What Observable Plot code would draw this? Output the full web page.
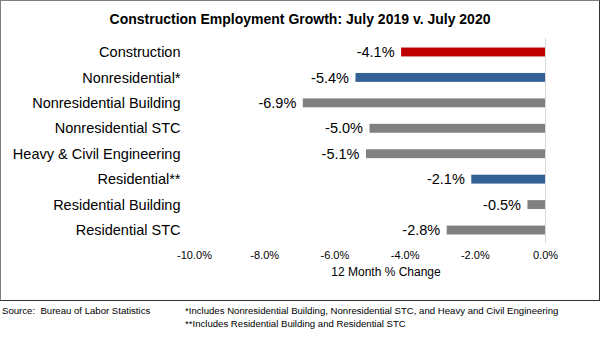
<!DOCTYPE html>
<html>
<head>
<meta charset="utf-8">
<script src="https://cdn.jsdelivr.net/npm/d3@7"></script>
<script src="https://cdn.jsdelivr.net/npm/@observablehq/plot@0.6"></script>
<style>
  html, body { margin: 0; padding: 0; background: #fff; }
  #wrap { position: relative; width: 600px; height: 339px; font-family: "Liberation Sans", Arial, sans-serif; overflow: hidden; }
  #box { position: absolute; left: 0; top: 0; width: 600px; height: 301px; box-sizing: border-box; border: 1px solid #7f7f7f; border-right-color: #333; border-bottom-color: #333; }
  #chart { position: absolute; left: 0; top: 0; }
  #title { position: absolute; left: 0; width: 600px; top: 11px; text-align: center; font-weight: bold; font-size: 14px; color: #000; }
  #xlabel { position: absolute; left: 286px; width: 200px; top: 265px; text-align: center; font-size: 12px; color: #000; }
  .foot { position: absolute; font-size: 9.6px; color: #000; white-space: pre; }
</style>
</head>
<body>
<div id="wrap">
  <div id="box"></div>
  <div id="chart"></div>
  <div id="title">Construction Employment Growth: July 2019 v. July 2020</div>
  <div id="xlabel">12 Month % Change</div>
  <div class="foot" style="left:2px; top:305px;">Source:  Bureau of Labor Statistics</div>
  <div class="foot" style="left:185px; top:305px;">*Includes Nonresidential Building, Nonresidential STC, and Heavy and Civil Engineering</div>
  <div class="foot" style="left:185px; top:318px;">**Includes Residential Building and Residential STC</div>
</div>
<script>
const categories = ["Construction", "Nonresidential*", "Nonresidential Building", "Nonresidential STC", "Heavy & Civil Engineering", "Residential**", "Residential Building", "Residential STC"];
const values = [-4.1, -5.4, -6.9, -5.0, -5.1, -2.1, -0.5, -2.8];
const groups = ["total", "segment", "sub", "sub", "sub", "segment", "sub", "sub"];
const groupColors = {total: "#c00000", segment: "#336195", sub: "#808080"};
const xTicks = [-10, -8, -6, -4, -2, 0];

const data = categories.map((c, i) => ({category: c, value: values[i], group: groups[i]}));
const fmt = d => d.toFixed(1) + "%";

const chart = Plot.plot({
  width: 600,
  height: 300,
  marginLeft: 194,
  marginRight: 55,
  marginTop: 31,
  marginBottom: 49,
  style: {fontFamily: '"Liberation Sans", Arial, sans-serif', color: "#000", background: "transparent"},
  x: {domain: [-10, 0], ticks: xTicks, tickFormat: fmt, label: null},
  y: {domain: categories, padding: 0.65, round: false, label: null},
  color: {domain: Object.keys(groupColors), range: Object.values(groupColors)},
  marks: [
    Plot.ruleX([0], {stroke: "#d9d9d9", strokeWidth: 1, insetTop: 7, insetBottom: 8}),
    Plot.barX(data, {x1: 0, x2: "value", y: "category", fill: d => groupColors[d.group]}),
    Plot.text(data, {x: "value", y: "category", text: d => fmt(d.value), textAnchor: "end", dx: -7, fontSize: 14.5, fill: "#000"}),
    Plot.axisX({ticks: xTicks, tickFormat: fmt, tickSize: 0, tickPadding: 0, fontSize: 11, label: null}),
    Plot.axisY({tickSize: 0, tickPadding: 14, fontSize: 14.5, label: null})
  ]
});
document.getElementById("chart").appendChild(chart);
</script>
</body>
</html>
